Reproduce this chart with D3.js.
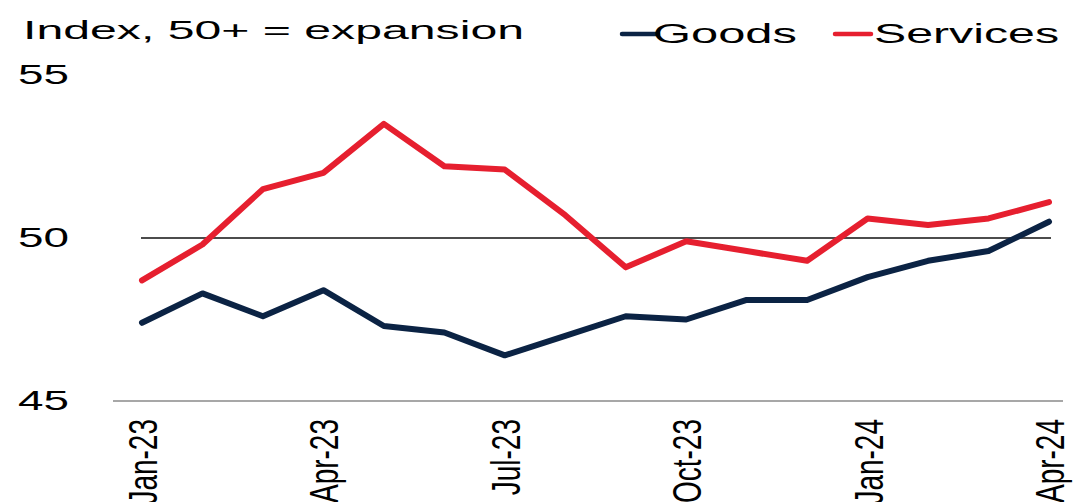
<!DOCTYPE html>
<html>
<head>
<meta charset="utf-8">
<script src="https://cdn.jsdelivr.net/npm/d3@7"></script>
<style>
  html, body { margin: 0; padding: 0; background: #fff; }
  svg { display: block; font-family: "Liberation Sans", Arial, sans-serif; }
</style>
</head>
<body>
<svg id="chart" width="1076" height="502"></svg>
<script>
// months on the x axis
const months = ["Jan-23", "Feb-23", "Mar-23", "Apr-23", "May-23", "Jun-23", "Jul-23", "Aug-23",
  "Sep-23", "Oct-23", "Nov-23", "Dec-23", "Jan-24", "Feb-24", "Mar-24", "Apr-24"];
const goods = [47.4, 48.3, 47.6, 48.4, 47.3, 47.1, 46.4, 47.0, 47.6, 47.5, 48.1, 48.1, 48.8, 49.3, 49.6, 50.5];
const services = [48.7, 49.8, 51.5, 52.0, 53.5, 52.2, 52.1, 50.7, 49.1, 49.9, 49.6, 49.3, 50.6, 50.4, 50.6, 51.1];
const xTicks = ["Jan-23", "Apr-23", "Jul-23", "Oct-23", "Jan-24", "Apr-24"];
const yTicks = [45, 50, 55];
const threshold = 50;

const svg = d3.select("#chart");

const x = d3.scalePoint().domain(months).range([142, 1049]);
const y = d3.scaleLinear().domain([45, 55]).range([401, 75]);

// title
svg.append("text")
  .attr("x", 23).attr("y", 38.5)
  .attr("font-size", 25.5)
  .attr("textLength", 501).attr("lengthAdjust", "spacingAndGlyphs")
  .attr("fill", "#000")
  .text("Index, 50+ = expansion");

// legend
const legend = [
  { name: "Goods", color: "#0b2344", x: 622, w: 144 },
  { name: "Services", color: "#e61f2f", x: 835, w: 185 }
];
const lg = svg.append("g").selectAll("g").data(legend).join("g")
  .attr("transform", d => `translate(${d.x},34)`);
lg.append("line")
  .attr("x1", 0).attr("x2", 36)
  .attr("stroke", d => d.color).attr("stroke-width", 4.5)
  .attr("stroke-linecap", "round");
lg.append("text")
  .attr("x", d => d.name === "Goods" ? 31 : 39).attr("y", 8.5)
  .attr("font-size", 27)
  .attr("textLength", d => d.w).attr("lengthAdjust", "spacingAndGlyphs")
  .text(d => d.name);

// y axis labels
const yAxis = svg.append("g")
  .attr("transform", "translate(69,0)")
  .call(d3.axisLeft(y).tickValues(yTicks).tickSize(0).tickPadding(0));
yAxis.select(".domain").remove();
yAxis.selectAll("text")
  .attr("x", -51)
  .attr("text-anchor", "start")
  .attr("font-size", 27)
  .attr("font-family", "Liberation Sans, Arial, sans-serif")
  .attr("fill", "#000")
  .attr("textLength", 51).attr("lengthAdjust", "spacingAndGlyphs");

// x axis line
svg.append("line")
  .attr("x1", x(months[0]) - 29).attr("x2", x(months[months.length - 1]) + 14)
  .attr("y1", y(45)).attr("y2", y(45))
  .attr("stroke", "#8a8a8a").attr("stroke-width", 1.5);

// x tick labels, rotated
svg.append("g").selectAll("text").data(xTicks).join("text")
  .attr("transform", d => `translate(${x(d)},419) scale(1.48,1) rotate(-90)`)
  .attr("text-anchor", "end")
  .attr("dy", "0.36em")
  .attr("font-size", 28)
  .attr("fill", "#000")
  .text(d => d);

// 50 line
svg.append("line")
  .attr("x1", x(months[0]) - 1).attr("x2", x(months[months.length - 1]) + 2)
  .attr("y1", y(threshold)).attr("y2", y(threshold))
  .attr("stroke", "#111").attr("stroke-width", 1.5);

const line = d3.line()
  .x((d, i) => x(months[i]))
  .y(d => y(d));

svg.append("path")
  .datum(goods)
  .attr("d", line)
  .attr("fill", "none")
  .attr("stroke", "#0b2344").attr("stroke-width", 6)
  .attr("stroke-linejoin", "round").attr("stroke-linecap", "round");

svg.append("path")
  .datum(services)
  .attr("d", line)
  .attr("fill", "none")
  .attr("stroke", "#e61f2f").attr("stroke-width", 6)
  .attr("stroke-linejoin", "round").attr("stroke-linecap", "round");
</script>
</body>
</html>
